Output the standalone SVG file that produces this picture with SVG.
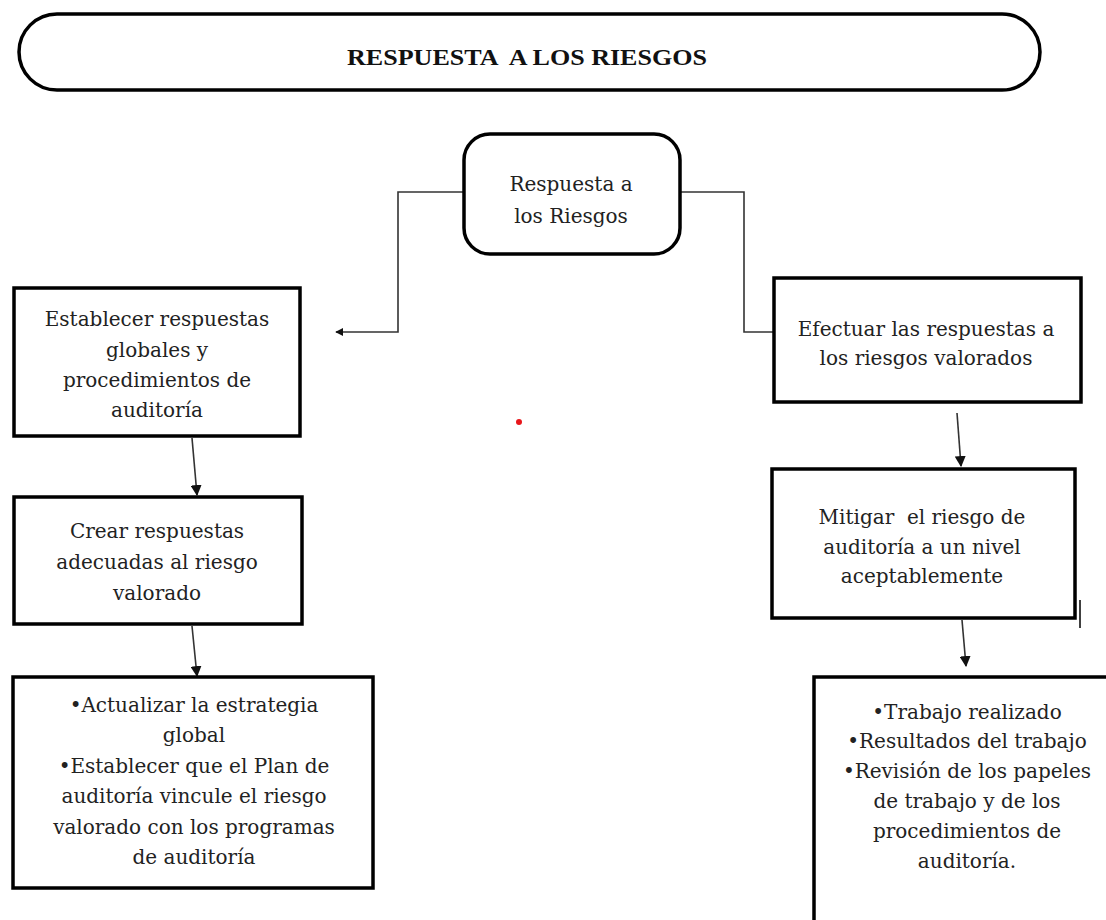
<svg xmlns="http://www.w3.org/2000/svg" width="1106" height="920" viewBox="0 0 1106 920">
<defs>
<marker id="arr" viewBox="0 0 10 10" refX="9" refY="5" markerWidth="8" markerHeight="8" markerUnits="userSpaceOnUse" orient="auto">
<path d="M0,0 L10,5 L0,10 Z" fill="#111"/>
</marker>
<marker id="arrB" viewBox="0 0 10 10" refX="9" refY="5" markerWidth="11" markerHeight="11" markerUnits="userSpaceOnUse" orient="auto">
<path d="M0,0 L10,5 L0,10 Z" fill="#111"/>
</marker>
</defs>
<style>
.box{fill:#fff;stroke:#000;stroke-width:3.5}
.t{font-family:"DejaVu Serif","Liberation Serif",serif;font-size:20px;fill:#222;text-anchor:middle}
.title{font-family:"Liberation Serif",serif;font-weight:bold;font-size:23px;fill:#111;text-anchor:middle;white-space:pre}
.c{fill:none;stroke:#333;stroke-width:1.6}
</style>
<rect width="1106" height="920" fill="#fff"/>
<g id="title">
<rect x="19" y="14" width="1021" height="76" rx="38" ry="38" class="box"/>
<text class="title" x="527" y="65" textLength="360" lengthAdjust="spacingAndGlyphs" xml:space="preserve">RESPUESTA  A LOS RIESGOS</text>
</g>
<g id="connectors">
<path class="c" d="M463,192 H398 V332 H336" marker-end="url(#arr)"/>
<path class="c" d="M680,192 H744 V332 H806" marker-end="url(#arr)"/>
<path class="c" d="M192,438 L197,495" marker-end="url(#arrB)"/>
<path class="c" d="M192,626 L197,676" marker-end="url(#arrB)"/>
<path class="c" d="M957,413 L961,466" marker-end="url(#arrB)"/>
<path class="c" d="M962,620 L966,666" marker-end="url(#arrB)"/>
</g>
<g id="center">
<rect x="464" y="134" width="216" height="120" rx="26" ry="26" class="box"/>
<text class="t" x="571" y="191">Respuesta a</text>
<text class="t" x="571" y="223">los Riesgos</text>
</g>
<g id="left1">
<rect x="14" y="288" width="286" height="148" class="box"/>
<text class="t" x="157" y="326">Establecer respuestas</text>
<text class="t" x="157" y="357">globales y</text>
<text class="t" x="157" y="387">procedimientos de</text>
<text class="t" x="157" y="417">auditoría</text>
</g>
<g id="left2">
<rect x="14" y="497" width="288" height="127" class="box"/>
<text class="t" x="157" y="538">Crear respuestas</text>
<text class="t" x="157" y="569">adecuadas al riesgo</text>
<text class="t" x="157" y="600">valorado</text>
</g>
<g id="left3">
<rect x="13" y="677" width="360" height="211" class="box"/>
<text class="t" x="194" y="712">•Actualizar la estrategia</text>
<text class="t" x="194" y="742">global</text>
<text class="t" x="194" y="773">•Establecer que el Plan de</text>
<text class="t" x="194" y="803">auditoría vincule el riesgo</text>
<text class="t" x="194" y="834">valorado con los programas</text>
<text class="t" x="194" y="864">de auditoría</text>
</g>
<g id="right1">
<rect x="774" y="278" width="307" height="124" class="box"/>
<text class="t" x="926" y="336">Efectuar las respuestas a</text>
<text class="t" x="926" y="365">los riesgos valorados</text>
</g>
<g id="right2">
<rect x="772" y="469" width="303" height="149" class="box"/>
<text class="t" x="922" y="524" xml:space="preserve" style="white-space:pre">Mitigar  el riesgo de</text>
<text class="t" x="922" y="554">auditoría a un nivel</text>
<text class="t" x="922" y="583">aceptablemente</text>
<line x1="1080" y1="600" x2="1080" y2="628" stroke="#000" stroke-width="1.5"/>
</g>
<g id="right3">
<rect x="814" y="677" width="320" height="270" class="box"/>
<text class="t" x="967" y="719">•Trabajo realizado</text>
<text class="t" x="967" y="748">•Resultados del trabajo</text>
<text class="t" x="967" y="778">•Revisión de los papeles</text>
<text class="t" x="967" y="808">de trabajo y de los</text>
<text class="t" x="967" y="838">procedimientos de</text>
<text class="t" x="967" y="868">auditoría.</text>
</g>
<circle cx="519" cy="422" r="3" fill="#e8161b"/>
</svg>
